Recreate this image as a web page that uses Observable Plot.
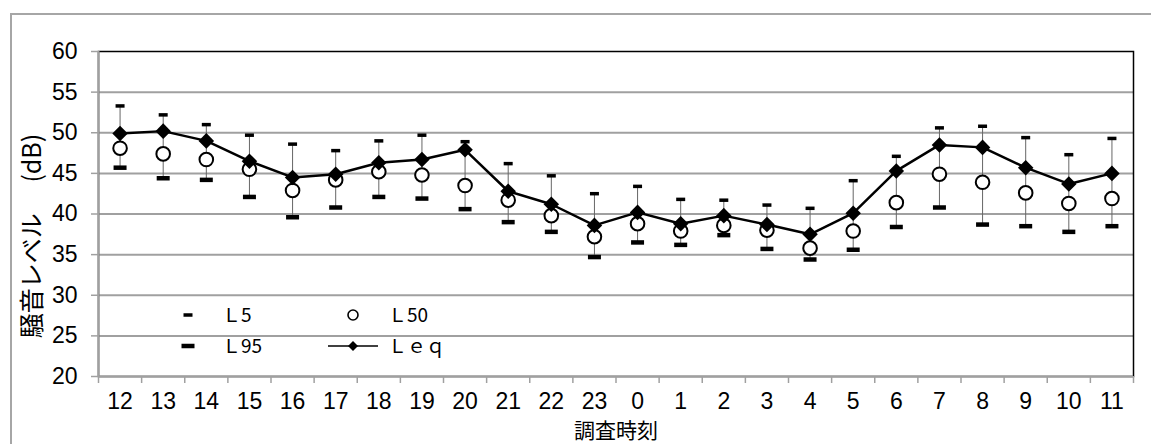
<!DOCTYPE html>
<html lang="ja">
<head>
<meta charset="utf-8">
<script src="https://cdn.jsdelivr.net/npm/d3@7"></script>
<script src="https://cdn.jsdelivr.net/npm/@observablehq/plot@0.6"></script>
<style>
  html, body { margin: 0; padding: 0; background: #fff; }
  #chart { position: relative; width: 1151px; height: 444px; overflow: hidden;
           font-family: "Noto Sans CJK JP", "Noto Sans", sans-serif; }
  #border { position: absolute; left: 10px; top: 13px; width: 1200px; height: 500px;
            border: 2px solid #a6a6a6; box-sizing: border-box; }
  #chart svg.plot { position: absolute; left: 0; top: 0; }
  #legend { position: absolute; left: 0; top: 0; pointer-events: none; }
</style>
</head>
<body>
<div id="chart"><div id="border"></div></div>
<script>
// 調査時刻 (hour of day), 12時 から 翌11時 まで
const hours = ["12","13","14","15","16","17","18","19","20","21","22","23",
               "0","1","2","3","4","5","6","7","8","9","10","11"];
// 時間率騒音レベル L5 / L50 / L95 and 等価騒音レベル Leq (dB)
const L5  = [53.3,52.2,51.0,49.7,48.6,47.8,49.0,49.7,48.9,46.2,44.7,42.5,
             43.4,41.8,41.7,41.1,40.7,44.1,47.1,50.6,50.8,49.4,47.3,49.3];
const L50 = [48.1,47.4,46.7,45.5,42.9,44.2,45.2,44.8,43.5,41.7,39.8,37.2,
             38.8,37.9,38.6,38.0,35.8,37.9,41.4,44.9,43.9,42.6,41.3,41.9];
const L95 = [45.7,44.4,44.2,42.1,39.6,40.8,42.1,41.9,40.6,39.0,37.8,34.7,
             36.5,36.2,37.4,35.7,34.4,35.6,38.4,40.8,38.7,38.5,37.8,38.5];
const Leq = [49.9,50.2,49.0,46.5,44.5,44.9,46.3,46.7,47.9,42.8,41.2,38.6,
             40.2,38.8,39.8,38.7,37.5,40.1,45.3,48.5,48.2,45.7,43.7,45.0];
const yTicks = [20,25,30,35,40,45,50,55,60];
const yTitle = "騒音レベル\u3000 (dB)";
const xTitle = "調査時刻";

// one row per hour; the slot index places each hour in the middle of its slot
const rows = hours.map((h, i) => ({
  hour: h, slot: i + 0.5, l5: L5[i], l50: L50[i], l95: L95[i], leq: Leq[i]
}));

// horizontal bar symbols for the L5 / L95 markers
const bar = (w, h) => ({ draw(ctx) { ctx.rect(-w / 2, -h / 2, w, h); } });

const grey = "#a0a0a0";
const font = '"Noto Sans CJK JP", "Noto Sans", sans-serif';
const digits = '"Liberation Sans", Arial, sans-serif';

const chart = Plot.plot({
  width: 1151,
  height: 444,
  marginLeft: 98,
  marginRight: 18,
  marginTop: 51,
  marginBottom: 68,
  x: { type: "linear", domain: [0, hours.length] },
  y: { domain: [20, 60] },
  style: { fontFamily: font, fontSize: "22px", color: "black", background: "transparent" },
  marks: [
    Plot.gridY(yTicks.filter(v => v > 20 && v < 60),
               { stroke: grey, strokeWidth: 2, strokeOpacity: 1 }),
    Plot.frame({ stroke: "black", strokeWidth: 1.5 }),
    Plot.axisY({ ticks: yTicks, tickSize: 7, tickPadding: 14, stroke: grey,
                 strokeWidth: 1.5, label: null, fontSize: 23, fontFamily: digits }),
    Plot.axisX({ ticks: d3.range(0, hours.length + 1), tickSize: 7, stroke: grey,
                 strokeWidth: 1.5, tickFormat: () => "", label: null }),
    Plot.axisX({ ticks: rows.map(d => d.slot), tickSize: 0, tickPadding: 16,
                 tickFormat: v => hours[Math.floor(v)], label: null,
                 fontSize: 23, fontFamily: digits }),
    Plot.ruleY([20], { stroke: grey, strokeWidth: 2 }),
    Plot.ruleX([0], { stroke: grey, strokeWidth: 2 }),
    Plot.text([yTitle], { frameAnchor: "left", rotate: -90, dx: -66, dy: 22,
                          textAnchor: "middle", lineAnchor: "middle", fontSize: 25 }),
    Plot.text([xTitle], { frameAnchor: "bottom", dy: 55, textAnchor: "middle",
                          lineAnchor: "middle", fontSize: 21 }),
    // L95 – L5 range
    Plot.ruleX(rows, { x: "slot", y1: "l95", y2: "l5", stroke: "#666", strokeWidth: 1 }),
    // Leq line
    Plot.line(rows, { x: "slot", y: "leq", stroke: "black", strokeWidth: 2.5 }),
    Plot.dot(rows, { x: "slot", y: "l5", symbol: bar(9, 3.5), fill: "black", stroke: "none" }),
    Plot.dot(rows, { x: "slot", y: "l95", symbol: bar(13, 4.5), fill: "black", stroke: "none" }),
    Plot.dot(rows, { x: "slot", y: "l50", r: 6.8, fill: "white", stroke: "black", strokeWidth: 2 }),
    Plot.dot(rows, { x: "slot", y: "leq", symbol: "diamond2", r: 7, fill: "black", stroke: "none" })
  ]
});
document.getElementById("chart").appendChild(chart);

// legend inside the plot area (lower left)
const legend = d3.select("#chart").append("svg")
  .attr("id", "legend").attr("width", 1151).attr("height", 444)
  .style("font-family", font).style("font-size", "19px");
const item = (g, sx, tx, y, label, draw) => {
  draw(g, sx, y);
  g.append("text").attr("x", tx).attr("y", y).attr("dy", "0.35em").text(label);
};
const g = legend.append("g");
item(g, 188, 222, 315, "Ｌ5", (g, x, y) =>
  g.append("rect").attr("x", x - 4.5).attr("y", y - 1.75).attr("width", 9).attr("height", 3.5));
item(g, 353, 388, 315, "Ｌ50", (g, x, y) =>
  g.append("circle").attr("cx", x).attr("cy", y).attr("r", 5)
   .attr("fill", "white").attr("stroke", "black").attr("stroke-width", 1.6));
item(g, 188, 222, 346, "Ｌ95", (g, x, y) =>
  g.append("rect").attr("x", x - 6.5).attr("y", y - 2.25).attr("width", 13).attr("height", 4.5));
item(g, 353, 388, 346, "Ｌｅｑ", (g, x, y) => {
  g.append("line").attr("x1", x - 25).attr("x2", x + 25).attr("y1", y).attr("y2", y)
   .attr("stroke", "black").attr("stroke-width", 1.6);
  g.append("path").attr("d", `M${x},${y - 5}L${x + 5},${y}L${x},${y + 5}L${x - 5},${y}Z`);
});
</script>
</body>
</html>
